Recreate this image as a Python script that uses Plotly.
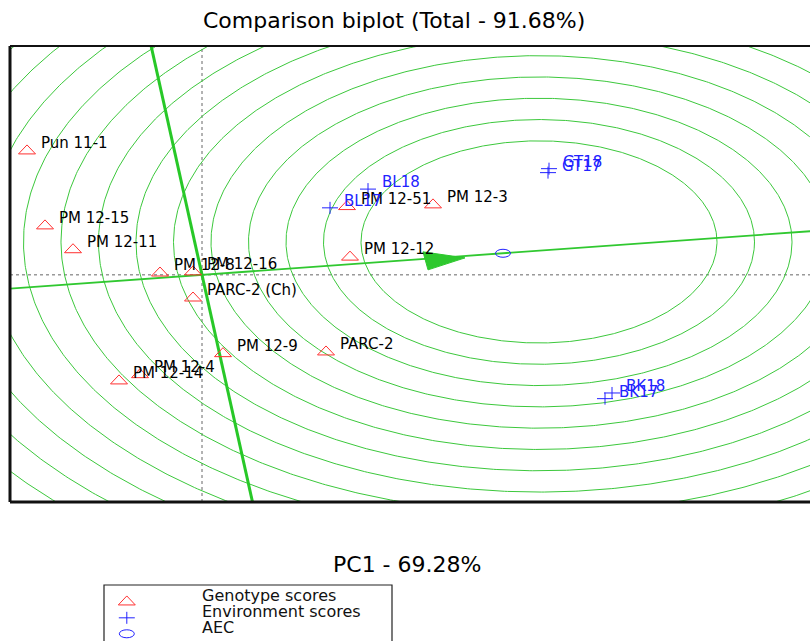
import numpy as np
import plotly.graph_objects as go

# ---------------- data ----------------
genotype_names = ["Pun 11-1", "PM 12-15", "PM 12-11", "PM 12-8", "PM 12-16",
                  "PARC-2 (Ch)", "PM 12-9", "PARC-2", "PM 12-14", "PM 12-4",
                  "PM 12-12", "PM 12-51", "PM 12-3"]
genotype_pc1 = [-1.75, -1.57, -1.29, -0.42, -0.09, -0.09, 0.21, 1.24, -0.83, -0.62, 1.48, 1.45, 2.31]
genotype_pc2 = [2.20, 0.88, 0.46, 0.05, 0.07, -0.39, -1.37, -1.34, -1.85, -1.74, 0.33, 1.22, 1.25]

env_names = ["BL18", "BL17", "GT18", "GT17", "BK18", "BK17"]
env_pc1 = [1.66, 1.28, 3.47, 3.46, 4.10, 4.03]
env_pc2 = [1.51, 1.18, 1.87, 1.80, -2.08, -2.18]

aec_pc1, aec_pc2 = 3.01, 0.38          # average environment coordinate
ideal_pc1, ideal_pc2 = 3.37, 0.58      # centre of the concentric circles
ring_first, ring_step, n_rings = 1.78, 0.375, 15
arrow_pc1 = [2.21, 2.26, 2.63]
arrow_pc2 = [0.405, 0.088, 0.299]

title_text = "Comparison biplot (Total - 91.68%)"
xlabel_text = "PC1 - 69.28%"
legend_items = ["Genotype scores", "Environment scores", "AEC"]

x_range = [-1.92, 6.08]
y_range = [-4.0, 4.03]

# ---------------- styles ----------------
GREEN = "#3cc83c"
RED = "#ff3030"
BLUE = "#2222ff"
FONT = "DejaVu Sans"

fig = go.Figure()

slope = aec_pc2 / aec_pc1
theta = np.linspace(0, 2 * np.pi, 900)
for i in range(n_rings):
    r = ring_first + i * ring_step
    fig.add_trace(go.Scatter(x=ideal_pc1 + r * np.cos(theta), y=ideal_pc2 + r * np.sin(theta),
                             mode="lines", line=dict(color=GREEN, width=1),
                             hoverinfo="skip", showlegend=False))

# average environment axis
ax = np.array([x_range[0] - 1, x_range[1] + 1])
fig.add_trace(go.Scatter(x=ax, y=slope * ax, mode="lines",
                         line=dict(color="#30c830", width=1.8), hoverinfo="skip", showlegend=False))
# ordinate through origin
oy = np.array([y_range[0] - 1, y_range[1] + 1])
fig.add_trace(go.Scatter(x=-slope * oy, y=oy, mode="lines",
                         line=dict(color="#28c828", width=3), hoverinfo="skip", showlegend=False))
# arrow head
fig.add_trace(go.Scatter(x=arrow_pc1 + [arrow_pc1[0]], y=arrow_pc2 + [arrow_pc2[0]],
                         mode="lines", fill="toself", fillcolor="#2ec82e",
                         line=dict(color="#2ec82e", width=1), hoverinfo="skip", showlegend=False))

shapes = []
annotations = []

# dotted axes through origin
shapes.append(dict(type="line", xref="x", yref="paper", x0=0, x1=0, y0=0, y1=1,
                   line=dict(color="#666666", width=1, dash="dot"), layer="below"))
shapes.append(dict(type="line", xref="paper", yref="y", x0=0, x1=1, y0=0, y1=0,
                   line=dict(color="#666666", width=1, dash="dot"), layer="below"))

TRI = "M -8.5,-4 L 8.5,-4 L 0,5 Z"
PLUS = "M -8,0 L 8,0 M 0,-6 L 0,6"

for name, x, y in zip(genotype_names, genotype_pc1, genotype_pc2):
    shapes.append(dict(type="path", xref="x", yref="y", xsizemode="pixel", ysizemode="pixel",
                       xanchor=x, yanchor=y, path=TRI, line=dict(color=RED, width=1)))
    annotations.append(dict(x=x, y=y, xref="x", yref="y", text=name, showarrow=False,
                            xanchor="left", yanchor="middle", xshift=12, yshift=7,
                            font=dict(family=FONT, size=15, color="black")))

for name, x, y in zip(env_names, env_pc1, env_pc2):
    shapes.append(dict(type="path", xref="x", yref="y", xsizemode="pixel", ysizemode="pixel",
                       xanchor=x, yanchor=y, path=PLUS, line=dict(color=BLUE, width=1)))
    annotations.append(dict(x=x, y=y, xref="x", yref="y", text=name, showarrow=False,
                            xanchor="left", yanchor="middle", xshift=12, yshift=7,
                            font=dict(family=FONT, size=15, color=BLUE)))

# AEC marker
shapes.append(dict(type="circle", xref="x", yref="y", xsizemode="pixel", ysizemode="pixel",
                   xanchor=aec_pc1, yanchor=aec_pc2, x0=-7.5, x1=7.5, y0=-4, y1=4,
                   line=dict(color=BLUE, width=1)))

# plot frame (left, top, bottom)
shapes.append(dict(type="line", xref="paper", yref="paper", x0=0, x1=0, y0=0, y1=1,
                   line=dict(color="#111111", width=3)))
shapes.append(dict(type="line", xref="paper", yref="paper", x0=0, x1=1.01, y0=0, y1=0,
                   line=dict(color="#111111", width=3)))
shapes.append(dict(type="line", xref="paper", yref="paper", x0=0, x1=1.01, y0=1, y1=1,
                   line=dict(color="#111111", width=2)))

# legend box
shapes.append(dict(type="path", xref="paper", yref="paper",
                   path="M 0.1175,-0.32 L 0.1175,-0.182 L 0.4775,-0.182 L 0.4775,-0.32",
                   line=dict(color="#222222", width=1.2)))
leg_sym_y = [-0.217, -0.254, -0.289]
leg_txt_y = [-0.206, -0.241, -0.276]
shapes.append(dict(type="path", xref="paper", yref="paper", xsizemode="pixel", ysizemode="pixel",
                   xanchor=0.146, yanchor=leg_sym_y[0], path=TRI, line=dict(color=RED, width=1)))
shapes.append(dict(type="path", xref="paper", yref="paper", xsizemode="pixel", ysizemode="pixel",
                   xanchor=0.146, yanchor=leg_sym_y[1], path=PLUS, line=dict(color=BLUE, width=1)))
shapes.append(dict(type="circle", xref="paper", yref="paper", xsizemode="pixel", ysizemode="pixel",
                   xanchor=0.146, yanchor=leg_sym_y[2], x0=-7.5, x1=7.5, y0=-4, y1=4,
                   line=dict(color=BLUE, width=1)))
for txt, yy in zip(legend_items, leg_txt_y):
    annotations.append(dict(x=0.2375, y=yy, xref="paper", yref="paper", text=txt, showarrow=False,
                            xanchor="left", yanchor="middle",
                            font=dict(family=FONT, size=16, color="#111111")))

annotations.append(dict(x=0.48, y=1.057, xref="paper", yref="paper", text=title_text,
                        showarrow=False, xanchor="center", yanchor="middle",
                        font=dict(family=FONT, size=22, color="black")))
annotations.append(dict(x=0.496, y=-0.136, xref="paper", yref="paper", text=xlabel_text,
                        showarrow=False, xanchor="center", yanchor="middle",
                        font=dict(family=FONT, size=22, color="black")))

fig.update_layout(
    width=810, height=641,
    margin=dict(l=10, r=0, t=46, b=139),
    paper_bgcolor="white", plot_bgcolor="white",
    showlegend=False,
    xaxis=dict(range=x_range, visible=False, fixedrange=True),
    yaxis=dict(range=y_range, visible=False, fixedrange=True),
    shapes=shapes, annotations=annotations,
)

fig.write_html("out.html", config={"displayModeBar": False},
               post_script="document.body.style.margin='0px';document.body.style.overflow='hidden';")
